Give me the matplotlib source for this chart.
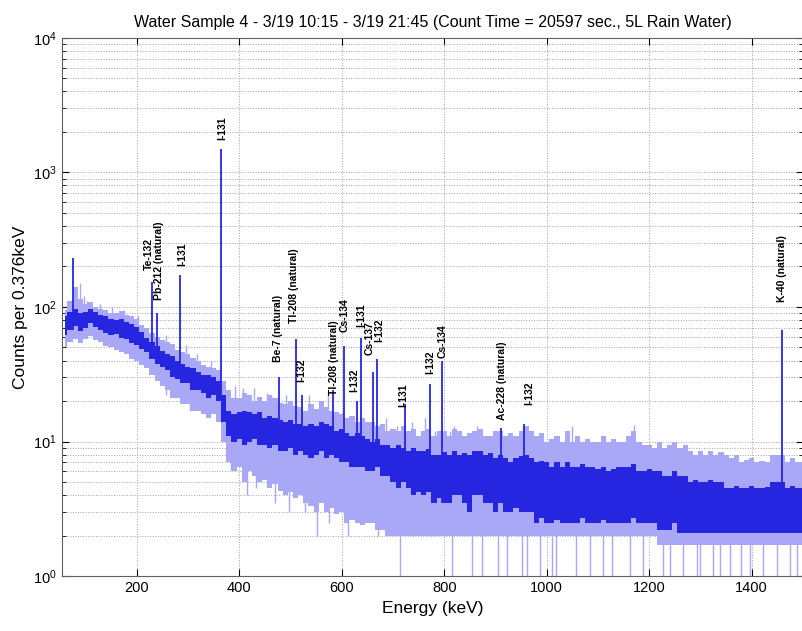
import numpy as np
import matplotlib
matplotlib.use("Agg")
import matplotlib.pyplot as plt

plt.rcParams['font.family'] = ['Liberation Sans', 'DejaVu Sans']
plt.rcParams['mathtext.fontset'] = 'custom'
plt.rcParams['mathtext.rm'] = 'Liberation Sans'
plt.rcParams['mathtext.it'] = 'Liberation Sans:italic'

# spectrum in 10 keV bins (centres 60 ... 1500 keV)
bin_centers = np.arange(60, 1501, 10)

# dense (dark) part of the noise band
core_lo = [62, 68, 72, 66, 70, 76, 71, 68, 64, 62,
           63, 59, 58, 54, 52, 49, 46, 41, 38, 36,
           34, 30, 29, 27, 27, 24, 24, 23, 21, 22,
           20, 14, 11, 10, 10.5, 9.5, 10, 10.5, 9.5, 9.5,
           9, 9.5, 8.5, 8.5, 9, 8, 8.5, 8, 7.5, 8,
           8.5, 7.5, 8, 7.5, 7, 7, 6.5, 6.5, 6.5, 6,
           6, 6.5, 5.5, 5.5, 5, 4.5, 5, 4.5, 4, 4.2,
           4, 4.2, 3.5, 3.8, 3.5, 3.5, 4, 4, 3.5, 3,
           4, 4, 3.5, 3.5, 3, 3.5, 3, 3, 3.2, 3,
           3, 3, 2.5, 2.7, 2.5, 2.5, 2.6, 2.5, 2.5, 2.5,
           2.5, 2.7, 2.5, 2.5, 2.5, 2.6, 2.5, 2.5, 2.5, 2.5,
           2.5, 2.7, 2.5, 2.5, 2.5, 2.5, 2.2, 2.2, 2.2, 2.5,
           2.1, 2.1, 2.1, 2.1, 2.1, 2.1, 2.1, 2.1, 2.1, 2.1,
           2.1, 2.1, 2.1, 2.1, 2.1, 2.1, 2.1, 2.1, 2.1, 2.1,
           2.1, 2.1, 2.1, 2.1, 2.1]
core_hi = [85, 92, 96, 90, 91, 96, 92, 87, 85, 81,
           80, 81, 77, 75, 71, 65, 59, 55, 51, 47,
           45, 43, 40, 38, 36, 35, 33, 31, 31, 30,
           28, 22, 17, 16, 16.5, 17, 16.5, 16, 16.5, 15,
           15.5, 15, 14.5, 14, 14.5, 13.5, 13.5, 13, 13.5, 13,
           14, 13.5, 13, 12, 12.5, 11.5, 11, 11.5, 11, 10.5,
           10, 10.5, 9.5, 9.5, 9, 9.5, 9, 8.5, 9, 8.5,
           8.5, 8.8, 8, 8, 8.3, 8, 8.5, 8, 8.2, 8,
           8.5, 8.5, 8, 8.2, 7.5, 8, 7.5, 7, 7.5, 7.8,
           8, 7.5, 7, 7.2, 7, 6.5, 7, 6.5, 7, 6.5,
           6.5, 6.8, 6.5, 6.5, 6.2, 6.5, 6, 6.2, 6.5, 6.5,
           6.5, 6.8, 6, 6, 6.2, 6, 6, 5.5, 5.5, 6,
           5.5, 5.5, 5, 5.2, 5, 5, 5.2, 5, 5, 4.5,
           4.5, 4.7, 4.5, 4.5, 4.7, 4.5, 4.5, 4.6, 5, 5,
           5, 4.5, 4.7, 4.5, 4.5]

# sparse (light) extent of the noise
light_lo = [50, 55, 58, 54, 58, 61, 57, 55, 51, 50,
            48, 46, 45, 41, 40, 37, 35, 31, 28, 26,
            24, 21, 21, 19, 19, 17, 17, 16, 15, 16,
            14, 10, 7, 6, 6.5, 5, 6, 5.5, 5, 5.2,
            4.5, 4.8, 4.3, 4, 4.2, 3.8, 4, 3.5, 3.3, 3,
            3.5, 3, 3.2, 2.9, 3, 2.5, 2.6, 2.5, 2.4, 2.5,
            2.5, 2.2, 2.2, 2, 2, 2, 2, 2, 2, 2,
            2, 2, 2, 2, 2, 2, 2, 2, 2, 2,
            2, 2, 2, 2, 2, 2, 2, 2, 2, 2,
            2, 2, 2, 2, 2, 2, 2, 2, 2, 2,
            2, 2, 2, 2, 2, 2, 2, 2, 2, 2,
            2, 2, 2, 2, 2, 2, 1.7, 1.7, 1.7, 1.7,
            1.7, 1.7, 1.7, 1.7, 1.7, 1.7, 1.7, 1.7, 1.7, 1.7,
            1.7, 1.7, 1.7, 1.7, 1.7, 1.7, 1.7, 1.7, 1.7, 1.7,
            1.7, 1.7, 1.7, 1.7, 1.7]
light_hi = [95, 110, 140, 115, 105, 108, 100, 97, 95, 90,
            90, 93, 87, 85, 81, 74, 70, 64, 60, 57,
            55, 53, 48, 46, 45, 42, 40, 37, 36, 35,
            34, 28, 24, 21, 21, 23, 22, 20, 21.5, 20,
            22, 21, 19.5, 19, 20, 18.5, 18, 17, 19, 17.5,
            20, 18, 17, 16.5, 16, 15, 15.5, 14, 15, 14,
            14, 13, 13.5, 12, 12.5, 12, 13, 12, 12.5, 11,
            12, 12.5, 11, 12, 12, 11, 12.5, 12, 11, 11.5,
            12, 12.5, 11, 11, 12, 12, 11, 11.5, 11, 12,
            13, 12, 11, 11.5, 10, 10.5, 11, 10, 12, 10,
            11, 10, 10.5, 10, 10, 11, 10, 10.5, 10, 10,
            11, 12, 10, 9.5, 9.5, 9, 10, 9, 9.5, 10,
            9, 9.5, 8.5, 8, 8.5, 8, 8.5, 8, 8.3, 8,
            7.5, 8, 7, 7.3, 7.5, 7, 7.2, 7, 8, 8,
            8, 7, 7.5, 7, 7]

# single noise spikes above the band
spike_e = [68, 82, 89, 97, 104, 128, 152, 176, 203, 258, 296, 318, 346,
           392, 408, 428, 454, 465, 492, 536, 573, 586, 686, 707, 737, 762,
           783, 812, 820, 864, 898, 953, 1049, 1170, 1244]
spike_h = [105, 135, 150, 120, 110, 105, 100, 95, 85, 62, 52, 45, 40,
           26, 25, 25, 23, 21.5, 22, 22, 23, 16.3, 15, 13, 14, 15,
           12, 12, 13, 13, 10.8, 13, 13, 13.2, 10]

# channels that drop below the band
dip_e = [258, 305, 385, 415, 432, 470, 498, 528, 551, 575, 612, 642, 670,
         713, 738, 758, 778, 815, 854, 873, 904, 922,
         951, 961, 986, 1010, 1019, 1058, 1084, 1110, 1127, 1162, 1188,
         1226, 1240, 1265, 1293, 1299, 1324, 1338, 1357, 1380, 1396,
         1422, 1449, 1474, 1488]
dip_v = [22, 17, 6.1, 4, 4.5, 3.5, 3, 3, 2, 2.5, 2, 2.5, 2,
         1, 2, 2, 2, 1, 1, 1, 1, 1,
         1, 1, 1, 1, 1, 1, 1, 1, 1, 1, 1,
         1, 1, 1, 1, 1, 1, 1, 1, 1, 1,
         1, 1, 1, 1]

# photopeaks
peak_e = [75, 229, 239, 284, 364, 477, 511, 522, 583, 605, 630, 637, 662,
          668, 723, 773, 796, 911, 955, 1460]
peak_h = [230, 153, 90, 173, 1500, 30, 58, 22, 24, 51, 20, 59, 33,
          41, 19, 26.6, 40, 12.7, 13.6, 67]

# nuclide labels: text, energy, count level of the text's lower end
label_txt = ['Te-132', 'Pb-212 (natural)', 'I-131', 'I-131', 'Be-7 (natural)',
             'Tl-208 (natural)', 'I-132', 'Tl-208 (natural)', 'Cs-134', 'I-132',
             'I-131', 'Cs-137', 'I-132', 'I-131', 'I-132', 'Cs-134',
             'Ac-228 (natural)', 'I-132', 'K-40 (natural)']
label_e = [224, 243, 288, 366, 475, 507, 521, 585, 605, 625,
           638, 655, 673, 720, 772, 796, 913, 965, 1460]
label_y = [188, 113, 202, 1740, 39, 76, 27.7, 22, 65, 23.4,
           71, 44, 55, 18, 32, 42, 14.4, 18.7, 109]

dark = '#2626e0'
light = '#a8a8f7'

fig = plt.figure(figsize=(8.03, 6.31), dpi=100)
ax = fig.add_axes([0.077, 0.087, 0.923, 0.853])

ax.fill_between(bin_centers, light_lo, light_hi, step='mid', color=light, lw=0, zorder=2)
ax.fill_between(bin_centers, core_lo, core_hi, step='mid', color=dark, lw=0, zorder=3)

base_idx = [int(np.argmin(np.abs(bin_centers - e))) for e in spike_e]
ax.vlines(spike_e, [core_hi[i] for i in base_idx], spike_h, color=light, lw=1.0, zorder=2)
base_idx = [int(np.argmin(np.abs(bin_centers - e))) for e in dip_e]
ax.vlines(dip_e, dip_v, [core_lo[i] for i in base_idx], color=light, lw=1.0, zorder=2)
base_idx = [int(np.argmin(np.abs(bin_centers - e))) for e in peak_e]
ax.vlines(peak_e, [core_lo[i] for i in base_idx], peak_h, color=dark, lw=1.3, zorder=4)

for txt, e, y in zip(label_txt, label_e, label_y):
    ax.text(e, y, txt, rotation=90, ha='center', va='bottom',
            fontsize=7.5, fontweight='bold', zorder=5)

ax.set_yscale('log')
ax.set_xlim(54, 1500)
ax.set_ylim(1, 1e4)
ax.set_xticks([200, 400, 600, 800, 1000, 1200, 1400])

ax.grid(True, which='major', axis='x', ls=':', color='#a0a0a0', lw=0.7)
ax.grid(True, which='both', axis='y', ls=':', color='#a0a0a0', lw=0.7)
ax.set_axisbelow(True)
ax.tick_params(which='both', direction='in', top=True, right=True, labelsize=10.5)
ax.tick_params(which='major', length=5)
ax.tick_params(which='minor', length=3)
for s in ax.spines.values():
    s.set_color('#606060')

ax.set_xlabel('Energy (keV)', fontsize=12.5)
ax.set_ylabel('Counts per 0.376keV', fontsize=12.5)
ax.set_title('Water Sample 4 - 3/19 10:15 - 3/19 21:45 (Count Time = 20597 sec., 5L Rain Water)',
             fontsize=11.5, pad=8)

fig.savefig('out.png', dpi=100)
